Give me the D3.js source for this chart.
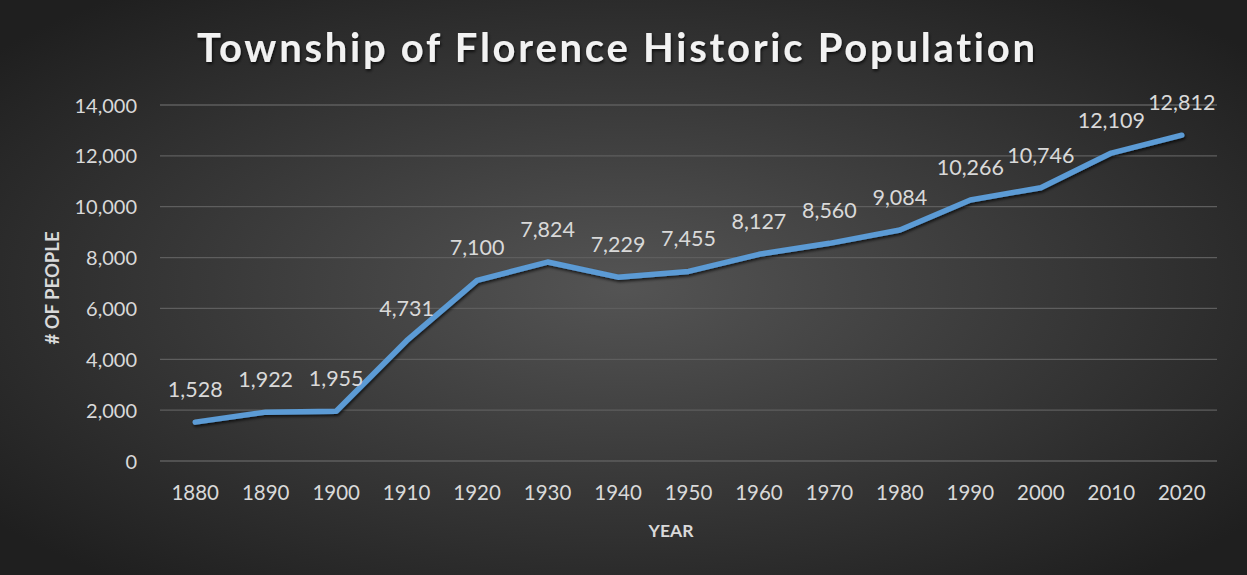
<!DOCTYPE html>
<html>
<head>
<meta charset="utf-8">
<script src="https://cdn.jsdelivr.net/npm/d3@7"></script>
<style>
  html, body { margin: 0; padding: 0; background: #2b2b2b; }
  svg { display: block; }
  text { font-variant-ligatures: none; }
</style>
</head>
<body>
<div id="app"></div>
<script>
const years = ['1880','1890','1900','1910','1920','1930','1940','1950','1960','1970','1980','1990','2000','2010','2020']
const population = [1528,1922,1955,4731,7100,7824,7229,7455,8127,8560,9084,10266,10746,12109,12812]
const yTicks = [0,2000,4000,6000,8000,10000,12000,14000]

const size = { width: 1247, height: 575 }
const margin = { top: 105, right: 30, bottom: 114, left: 160 }

const svg = d3.select('#app').append('svg')
  .attr('width', size.width)
  .attr('height', size.height)

const defs = svg.append('defs')
const bg = defs.append('radialGradient').attr('id', 'bg')
  .attr('cx', '50%').attr('cy', '50%').attr('r', '65%')
bg.append('stop').attr('offset', '0%').attr('stop-color', '#545454')
bg.append('stop').attr('offset', '100%').attr('stop-color', '#1f1f1f')

const shadow = defs.append('filter').attr('id', 'shadow')
  .attr('x', '-5%').attr('y', '-20%').attr('width', '110%').attr('height', '140%')
shadow.append('feDropShadow').attr('dx', 1).attr('dy', 2).attr('stdDeviation', 1.5)
  .attr('flood-color', '#000').attr('flood-opacity', 0.7)

svg.append('rect')
  .attr('width', size.width).attr('height', size.height)
  .attr('fill', 'url(#bg)')

const x = d3.scalePoint()
  .domain(years)
  .range([margin.left, size.width - margin.right])
  .padding(0.5)

const y = d3.scaleLinear()
  .domain([0, 14000])
  .range([size.height - margin.bottom, margin.top])

// gridlines
svg.append('g')
  .selectAll('line')
  .data(yTicks)
  .enter()
  .append('line')
  .attr('x1', margin.left)
  .attr('x2', size.width - margin.right)
  .attr('y1', d => y(d))
  .attr('y2', d => y(d))
  .attr('stroke', '#5e5e5e')
  .attr('stroke-width', 1.3)

const font = "Lato, 'Open Sans', sans-serif"
const textColor = '#d9d9d9'

// y axis labels
svg.append('g')
  .selectAll('text')
  .data(yTicks)
  .enter()
  .append('text')
  .attr('x', 137)
  .attr('y', d => y(d) + 7.5)
  .attr('text-anchor', 'end')
  .attr('fill', textColor)
  .attr('font-family', font)
  .attr('font-size', 20)
  .text(d => d3.format(',')(d))

// x axis labels
svg.append('g')
  .selectAll('text')
  .data(years)
  .enter()
  .append('text')
  .attr('x', d => x(d))
  .attr('y', 500)
  .attr('text-anchor', 'middle')
  .attr('fill', textColor)
  .attr('font-family', font)
  .attr('font-size', 20.5)
  .text(d => d)

// axis titles
svg.append('text')
  .attr('x', 671).attr('y', 537)
  .attr('text-anchor', 'middle')
  .attr('fill', textColor)
  .attr('font-family', font)
  .attr('font-weight', 'bold')
  .attr('font-size', 17.5)
  .text('YEAR')

svg.append('text')
  .attr('transform', 'translate(59,288) rotate(-90)')
  .attr('text-anchor', 'middle')
  .attr('fill', textColor)
  .attr('font-family', font)
  .attr('font-weight', 'bold')
  .attr('font-size', 18.5)
  .text('# OF PEOPLE')

// line
const line = d3.line()
  .x((d, i) => x(years[i]))
  .y(d => y(d))

svg.append('path')
  .datum(population)
  .attr('d', line)
  .attr('fill', 'none')
  .attr('stroke', '#5b9bd5')
  .attr('stroke-width', 5.5)
  .attr('stroke-linecap', 'round')
  .attr('stroke-linejoin', 'round')
  .attr('filter', 'url(#shadow)')

// data labels
svg.append('g')
  .selectAll('text')
  .data(population)
  .enter()
  .append('text')
  .attr('x', (d, i) => x(years[i]))
  .attr('y', d => y(d) - 25)
  .attr('text-anchor', 'middle')
  .attr('fill', textColor)
  .attr('font-family', font)
  .attr('font-size', 21.5)
  .text(d => d3.format(',')(d))

// title
svg.append('text')
  .attr('x', 616).attr('y', 62)
  .attr('text-anchor', 'middle')
  .attr('fill', '#f2f2f2')
  .attr('font-family', font)
  .attr('font-weight', 'bold')
  .attr('font-size', 40)
  .attr('textLength', 838)
  .attr('lengthAdjust', 'spacing')
  .attr('filter', 'url(#shadow)')
  .text('Township of Florence Historic Population')
</script>
</body>
</html>
